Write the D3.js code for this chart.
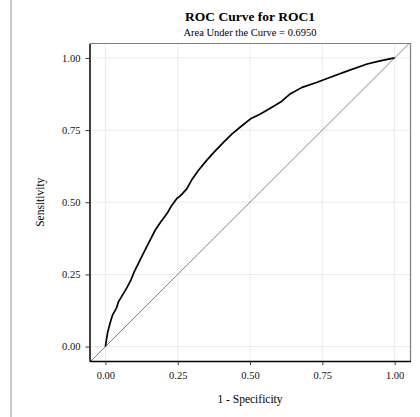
<!DOCTYPE html>
<html>
<head>
<meta charset="utf-8">
<script src="https://cdn.jsdelivr.net/npm/d3@7"></script>
<style>
  body { margin: 0; background: #fff; }
  svg { display: block; font-family: "Liberation Serif", "DejaVu Serif", serif; }
</style>
</head>
<body>
<div id="chart"></div>
<script>
// ROC points: false positive rate and true positive rate
const fpr = [0, 0.003, 0.008, 0.016, 0.025, 0.039, 0.045, 0.06, 0.075, 0.088,
  0.10, 0.115, 0.13, 0.143, 0.155, 0.172, 0.19, 0.213, 0.23, 0.247,
  0.26, 0.282, 0.30, 0.322, 0.35, 0.375, 0.409, 0.438, 0.473, 0.502,
  0.536, 0.57, 0.606, 0.64, 0.68, 0.73, 0.778, 0.84, 0.905, 0.95, 1];
const tpr = [0, 0.02, 0.05, 0.081, 0.11, 0.135, 0.155, 0.18, 0.205, 0.23,
  0.26, 0.29, 0.32, 0.346, 0.37, 0.403, 0.43, 0.461, 0.49, 0.513,
  0.523, 0.547, 0.58, 0.611, 0.645, 0.673, 0.708, 0.737, 0.766, 0.789,
  0.806, 0.826, 0.847, 0.876, 0.898, 0.915, 0.933, 0.956, 0.979, 0.99, 1];
const xTicks = [0, 0.25, 0.5, 0.75, 1];
const yTicks = [0, 0.25, 0.5, 0.75, 1];
const title = "ROC Curve for ROC1";
const subtitle = "Area Under the Curve = 0.6950";

const w = 420, h = 417;
const pL = 89.5, pR = 410.5, pT = 43.5, pB = 361;

const x = d3.scaleLinear().domain([-0.055, 1.055]).range([pL, pR]);
const y = d3.scaleLinear().domain([-0.05, 1.05]).range([pB, pT]);

const svg = d3.select("#chart").append("svg")
  .attr("width", w)
  .attr("height", h);

// page edge line on the left
svg.append("line")
  .attr("x1", 11).attr("x2", 11)
  .attr("y1", 0).attr("y2", h)
  .attr("stroke", "#c8c8c8")
  .attr("stroke-width", 2);

// grid
svg.append("g").selectAll("line").data(xTicks).enter().append("line")
  .attr("x1", d => x(d)).attr("x2", d => x(d))
  .attr("y1", pT).attr("y2", pB)
  .attr("stroke", "#ebebeb");
svg.append("g").selectAll("line").data(yTicks).enter().append("line")
  .attr("x1", pL).attr("x2", pR)
  .attr("y1", d => y(d)).attr("y2", d => y(d))
  .attr("stroke", "#ebebeb");

// clip for diagonal
svg.append("clipPath").attr("id", "panel")
  .append("rect")
  .attr("x", pL).attr("y", pT)
  .attr("width", pR - pL).attr("height", pB - pT);

svg.append("line")
  .attr("clip-path", "url(#panel)")
  .attr("x1", x(-0.1)).attr("y1", y(-0.1))
  .attr("x2", x(1.1)).attr("y2", y(1.1))
  .attr("stroke", "#858585")
  .attr("stroke-width", 1);

// ROC curve
const pts = fpr.map((f, i) => [f, tpr[i]]);
svg.append("path")
  .datum(pts)
  .attr("d", d3.line().x(d => x(d[0])).y(d => y(d[1])))
  .attr("fill", "none")
  .attr("stroke", "#000")
  .attr("stroke-width", 1.7)
  .attr("stroke-linejoin", "round");

// panel border: top/right gray
svg.append("path")
  .attr("d", `M${pL},${pT}H${pR}V${pB}`)
  .attr("fill", "none")
  .attr("stroke", "#7f7f7f")
  .attr("stroke-width", 1.2);

// axes
const xAxis = d3.axisBottom(x).tickValues(xTicks).tickFormat(d3.format(".2f")).tickSize(4).tickSizeOuter(0);
const yAxis = d3.axisLeft(y).tickValues(yTicks).tickFormat(d3.format(".2f")).tickSize(4).tickSizeOuter(0);

const gx = svg.append("g")
  .attr("transform", `translate(0, ${pB})`)
  .call(xAxis);
const gy = svg.append("g")
  .attr("transform", `translate(${pL}, 0)`)
  .call(yAxis);

[gx, gy].forEach(g => {
  g.select(".domain").attr("stroke", "#000").attr("stroke-width", 1.5);
  g.selectAll(".tick line").attr("stroke", "#333").attr("stroke-width", 1);
  g.selectAll(".tick text")
    .attr("font-family", "Liberation Serif, serif")
    .attr("font-size", 10.5)
    .attr("fill", "#111");
});
gx.selectAll(".tick text").attr("dy", "1.05em");
gy.selectAll(".tick text").attr("dx", "-0.2em");

// titles
svg.append("text")
  .text(title)
  .attr("x", (pL + pR) / 2)
  .attr("y", 20.5)
  .attr("text-anchor", "middle")
  .attr("font-size", 13.5)
  .attr("font-weight", "bold");

svg.append("text")
  .text(subtitle)
  .attr("x", (pL + pR) / 2)
  .attr("y", 35.5)
  .attr("text-anchor", "middle")
  .attr("font-size", 10.5);

svg.append("text")
  .text("1 - Specificity")
  .attr("x", (pL + pR) / 2)
  .attr("y", 403)
  .attr("text-anchor", "middle")
  .attr("font-size", 11.5);

svg.append("text")
  .text("Sensitivity")
  .attr("transform", `translate(44, ${(pT + pB) / 2}) rotate(-90)`)
  .attr("text-anchor", "middle")
  .attr("font-size", 11.5);
</script>
</body>
</html>
